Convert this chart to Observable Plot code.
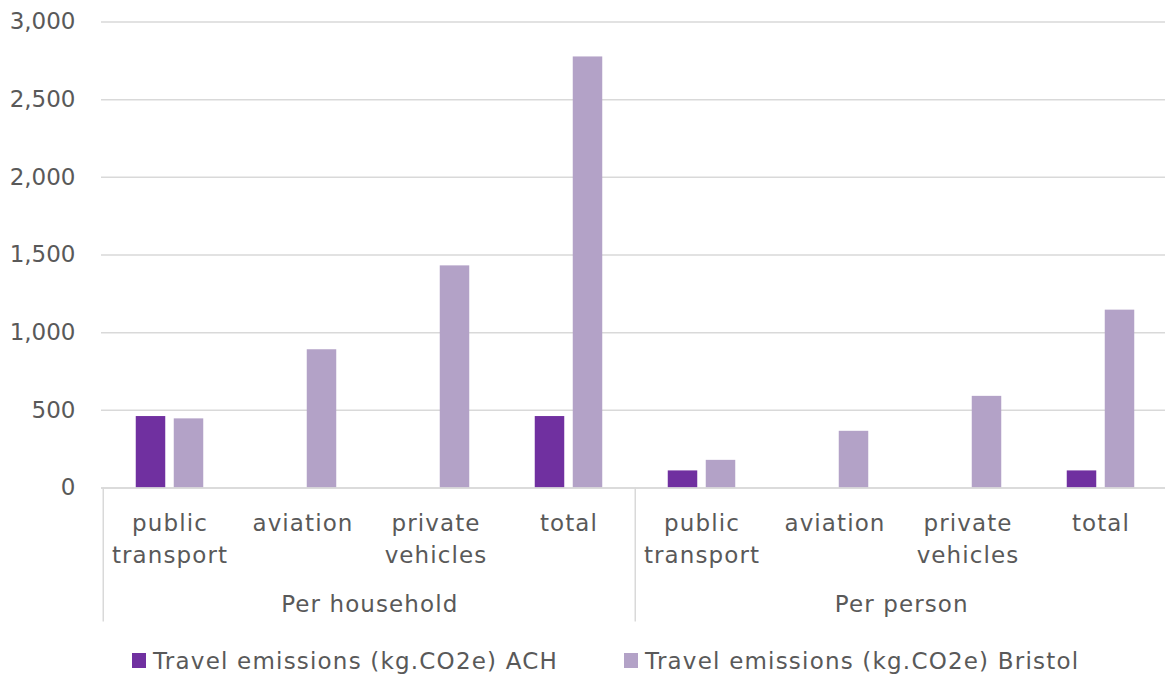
<!DOCTYPE html>
<html>
<head>
<meta charset="utf-8">
<script src="https://cdn.jsdelivr.net/npm/d3@7"></script>
<script src="https://cdn.jsdelivr.net/npm/@observablehq/plot@0.6"></script>
<style>
  html, body { margin: 0; padding: 0; background: #fff; overflow: hidden; }
  #chart svg { display: block; }
  .legend {
    display: flex; align-items: center; height: 41px;
    font-family: "DejaVu Sans", sans-serif; font-size: 23px; color: #595959;
    letter-spacing: 1.2px;
    padding-left: 132px;
  }
  .legend .item { display: flex; align-items: center; white-space: nowrap; }
  .legend .item + .item { margin-left: 66px; }
  .legend .swatch { width: 14px; height: 15px; margin-right: 7px; }
</style>
</head>
<body>
<div id="chart"></div>
<div class="legend" id="legend"></div>
<script>
// Travel emissions (kg CO2e), ACH vs Bristol, per household and per person
const groups = ["Per household", "Per person"];
const categories = ["public transport", "aviation", "private vehicles", "total"];
const categoryLabels = ["public\ntransport", "aviation", "private\nvehicles", "total"];
const seriesNames = ["Travel emissions (kg.CO2e) ACH", "Travel emissions (kg.CO2e) Bristol"];
const achValues = [460, null, null, 460, 110, null, null, 110];
const bristolValues = [445, 890, 1430, 2775, 178, 365, 590, 1145];
const yTicks = [0, 500, 1000, 1500, 2000, 2500, 3000];
const seriesColors = ["#7030A0", "#B3A2C7"];

const keys = groups.flatMap(g => categories.map(c => `${g} | ${c}`));
const rows = keys.map((key, i) => ({
  key,
  group: groups[Math.floor(i / categories.length)],
  label: categoryLabels[i % categories.length],
  ach: achValues[i],
  bristol: bristolValues[i]
}));

const width = 1165;
const height = 640;
const xRange = [101, 1169];
const step = (xRange[1] - xRange[0]) / keys.length;
const barW = 30, barGap = 8;
const gridColor = "#d9d9d9";

const plot = Plot.plot({
  width, height,
  marginTop: 21.5, marginBottom: 152.5, marginLeft: 101, marginRight: 0,
  style: {fontFamily: "DejaVu Sans, sans-serif", color: "#595959", background: "#fff", overflow: "hidden"},
  x: {domain: keys, range: xRange, padding: 0, axis: null},
  y: {domain: [0, 3000], axis: null},
  marks: [
    Plot.gridY(yTicks, {stroke: gridColor, strokeOpacity: 1, strokeWidth: 1.5}),
    Plot.barY(rows.filter(d => d.ach != null), {
      x: "key", y: "ach", fill: seriesColors[0],
      insetLeft: step / 2 - barW - barGap / 2, insetRight: step / 2 + barGap / 2
    }),
    Plot.barY(rows.filter(d => d.bristol != null), {
      x: "key", y: "bristol", fill: seriesColors[1],
      insetLeft: step / 2 + barGap / 2, insetRight: step / 2 - barW - barGap / 2
    }),
    Plot.ruleY([0], {stroke: gridColor, strokeWidth: 1.5}),
    // group separators running down through the category labels
    Plot.ruleX([keys[0], keys[categories.length]], {
      stroke: gridColor, strokeWidth: 1.5, dx: -step / 2,
      insetTop: 466, insetBottom: -134
    }),
    Plot.axisY({ticks: yTicks, tickSize: 0, tickPadding: 26, fontSize: 23,
      tickFormat: d3.format(","), label: null}),
    Plot.text(rows, {
      x: "key", text: "label", frameAnchor: "bottom", lineAnchor: "top",
      dy: 20, lineHeight: 1.4, fontSize: 23, fill: "#595959"
    }),
    Plot.text(groups, {
      x: (g, i) => keys[i * categories.length + 1], text: d => d,
      frameAnchor: "bottom", lineAnchor: "top", dy: 108, dx: step / 2,
      fontSize: 23, fill: "#595959"
    })
  ]
});
// wider tracking for the category and group labels
d3.select(plot).selectAll('g[aria-label="text"] text').style("letter-spacing", "1.1px");
document.getElementById("chart").append(plot);

const legend = document.getElementById("legend");
seriesNames.forEach((name, i) => {
  const item = document.createElement("div");
  item.className = "item";
  const sw = document.createElement("span");
  sw.className = "swatch";
  sw.style.background = seriesColors[i];
  item.append(sw, document.createTextNode(name));
  legend.append(item);
});
</script>
</body>
</html>
